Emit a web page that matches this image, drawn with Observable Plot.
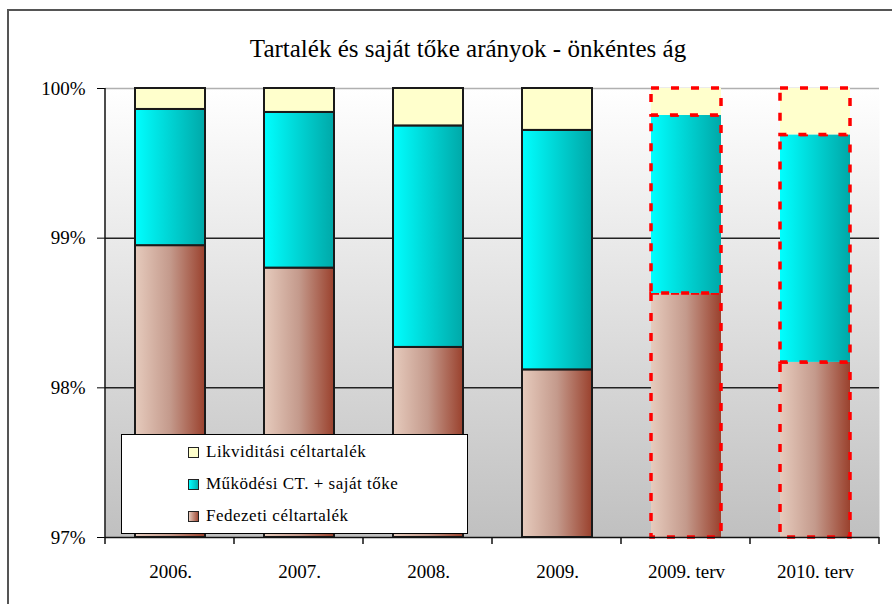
<!DOCTYPE html>
<html><head><meta charset="utf-8">
<script src="https://cdn.jsdelivr.net/npm/d3@7"></script>
<script src="https://cdn.jsdelivr.net/npm/@observablehq/plot@0.6"></script>
<style>
body{margin:0;background:#fff;}
#wrap{position:relative;width:892px;height:604px;overflow:hidden;font-family:"Liberation Serif","Times New Roman",serif;color:#000;}
#border{position:absolute;left:7px;top:9px;width:920px;height:640px;border:2px solid #555;box-sizing:border-box;}
#title{position:absolute;left:0;width:936px;top:36px;line-height:1;text-align:center;font-size:25px;white-space:nowrap;}
#chart{position:absolute;left:0;top:0;}
#legend{position:absolute;left:121px;top:434px;width:347px;height:100px;background:#fff;border:1px solid #000;box-sizing:border-box;font-size:17px;}
.item{position:absolute;left:66px;height:20px;display:flex;align-items:center;white-space:nowrap;letter-spacing:0.5px;}
.sw{width:9px;height:9px;border:1px solid #222;margin-right:7px;flex:none;}
</style>
</head><body>
<div id="wrap">
  <div id="border"></div>
  <div id="chart"></div>
  <div id="title">Tartalék és saját tőke arányok - önkéntes ág</div>
  <div id="legend"></div>
</div>
<script>
const categories = ["2006.", "2007.", "2008.", "2009.", "2009. terv", "2010. terv"];
const planned = ["2009. terv", "2010. terv"];
const fedezeti = [98.95, 98.80, 98.27, 98.12, 98.63, 98.17];
const mukodesi = [0.91, 1.04, 1.48, 1.60, 1.19, 1.52];
const likviditasi = [0.14, 0.16, 0.25, 0.28, 0.18, 0.31];
const seriesNames = ["Fedezeti céltartalék", "Működési CT. + saját tőke", "Likviditási céltartalék"];
const seriesFill = ["url(#gBrown)", "url(#gCyan)", "#ffffcc"];
const legendSwatch = ["linear-gradient(90deg,#e6cbbd,#a04a36)", "linear-gradient(90deg,#00ffff,#00b0b0)", "#ffffcc"];
const yTicks = [97, 98, 99, 100];

const W = 892, H = 604, mL = 105, mR = 13, mT = 88, mB = 67;

// build stacked rows
const rows = [];
categories.forEach((c, i) => {
  const vals = [fedezeti[i], mukodesi[i], likviditasi[i]];
  let acc = 0;
  vals.forEach((v, s) => {
    rows.push({cat: c, series: s, y1: acc, y2: acc + v, planned: planned.includes(c)});
    acc += v;
  });
});

const marks = [
  Plot.frame({fill: "url(#gBg)", stroke: null}),
  Plot.ruleY([100], {stroke: "#b0b0b0", strokeWidth: 1.5}),
  Plot.ruleY([98, 99], {stroke: "#222", strokeWidth: 1.5}),
];
for (let s = 0; s < 3; s++) {
  marks.push(Plot.barY(rows.filter(r => r.series === s && !r.planned), {
    x: "cat", y1: "y1", y2: "y2", fill: seriesFill[s], stroke: "#1a1a1a", strokeWidth: 2
  }));
}
for (let s = 0; s < 3; s++) {
  marks.push(Plot.barY(rows.filter(r => r.series === s && r.planned), {
    x: "cat", y1: "y1", y2: "y2", fill: seriesFill[s], stroke: "#ff0000", strokeWidth: 3.5, strokeDasharray: "8,12"
  }));
}
marks.push(Plot.ruleY([97], {stroke: "#111", strokeWidth: 1.5}));

const svg = Plot.plot({
  width: W, height: H,
  marginLeft: mL, marginRight: mR, marginTop: mT, marginBottom: mB,
  style: {background: "transparent", fontFamily: "'Liberation Serif', 'Times New Roman', serif", fontSize: "19px", color: "#000"},
  x: {domain: categories, paddingInner: 0.46, paddingOuter: 0.23, tickSize: 0, tickPadding: 27, label: null},
  y: {domain: [97, 100], clamp: true, ticks: yTicks, tickFormat: d => d + "%", tickSize: 8, tickPadding: 12, label: null},
  marks
});

// gradients
const defs = d3.select(svg).insert("defs", ":first-child");
const gb = defs.append("linearGradient").attr("id", "gBrown").attr("x1", 0).attr("x2", 1).attr("y1", 0).attr("y2", 0);
gb.append("stop").attr("offset", "0").attr("stop-color", "#e6cbbd");
gb.append("stop").attr("offset", "0.5").attr("stop-color", "#c49a8c");
gb.append("stop").attr("offset", "1").attr("stop-color", "#9a412d");
const gc = defs.append("linearGradient").attr("id", "gCyan").attr("x1", 0).attr("x2", 1).attr("y1", 0).attr("y2", 0);
gc.append("stop").attr("offset", "0").attr("stop-color", "#00ffff");
gc.append("stop").attr("offset", "1").attr("stop-color", "#00a8a8");
const gbg = defs.append("linearGradient").attr("id", "gBg").attr("x1", 0).attr("x2", 0).attr("y1", 0).attr("y2", 1);
gbg.append("stop").attr("offset", "0").attr("stop-color", "#ffffff");
gbg.append("stop").attr("offset", "1").attr("stop-color", "#c0c0c0");

// left axis line and category boundary ticks
const g = d3.select(svg).append("g").attr("stroke", "#111").attr("stroke-width", 1.5);
g.append("line").attr("x1", mL).attr("x2", mL).attr("y1", mT).attr("y2", H - mB);
const step = (W - mL - mR) / categories.length;
for (let i = 0; i <= categories.length; i++) {
  const x = mL + i * step;
  g.append("line").attr("x1", x).attr("x2", x).attr("y1", H - mB).attr("y2", H - mB + 7);
}

document.getElementById("chart").appendChild(svg);

// legend
const lg = d3.select("#legend");
[2, 1, 0].forEach((s, k) => {
  const it = lg.append("div").attr("class", "item").style("top", (7 + k * 32) + "px");
  it.append("div").attr("class", "sw").style("background", legendSwatch[s]);
  it.append("span").text(seriesNames[s]);
});
</script>
</body></html>
